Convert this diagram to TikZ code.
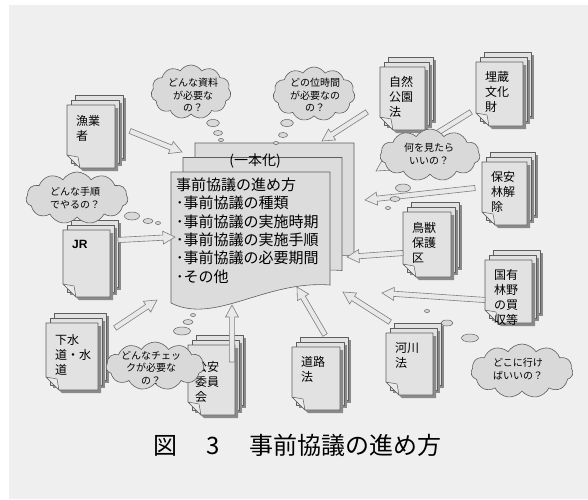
\documentclass[tikz,border=0pt]{standalone}
\usepackage{fontspec}
\setmainfont{Noto Sans CJK JP}
\newfontfamily\jrfont{Liberation Sans}
\usetikzlibrary{shapes.symbols,shapes.geometric,calc}
\definecolor{bgc}{HTML}{EFEFEF}
\definecolor{pagec}{HTML}{E2E2E2}
\definecolor{edgec}{HTML}{5E5E5E}
\definecolor{shadc}{HTML}{8A8A8A}
\definecolor{cloudc}{HTML}{D9D9D9}
\definecolor{arrowc}{HTML}{E9E9E9}
\definecolor{mainc}{HTML}{DCDCDC}
\tikzset{
  pagebox/.style={fill=pagec, draw=edgec, line width=0.6pt, line join=round},
  shadowbox/.style={fill=shadc},
  flapbox/.style={fill=pagec!70!white, draw=edgec, line width=0.5pt, line join=round},
  doctext/.style={font=\fontsize{12}{15}\selectfont, align=left, inner sep=0pt, anchor=north west},
  mainpage/.style={fill=mainc, draw=edgec, line width=0.6pt},
  maintext/.style={font=\fontsize{15}{18.4}\selectfont, align=left, inner sep=0pt, anchor=north west},
  cloudbox/.style={cloud, cloud puffs=11, cloud puff arc=115, fill=cloudc, draw=edgec, line width=0.6pt, inner sep=0pt},
  cloudtext/.style={font=\fontsize{10}{12.8}\selectfont, align=center, inner sep=0pt},
  bubble/.style={ellipse, fill=cloudc, draw=edgec, line width=0.5pt, inner sep=0pt},
  fatarrow/.style={fill=arrowc, draw=edgec!80, line width=0.6pt, line join=miter},
}
% name, x, y, w, h, text, text top offset, text left offset
\newcommand{\docstack}[8]{%
\begin{scope}[shift={(#2,#3)}]
  \foreach \k in {2,1}{
    \fill[shadowbox] ({4*\k+3},{-5*\k+3}) rectangle ++(#4,#5);
    \draw[pagebox] ({4*\k},{-5*\k}) rectangle ++(#4,#5);
  }
  \fill[shadowbox] (3,3) -- ++(#4,0) -- ++(0,#5) -- (16,{#5+3}) -- (3,{#5-10}) -- cycle;
  \draw[pagebox] (0,0) -- (#4,0) -- (#4,#5) -- (13,#5) -- (0,{#5-13}) -- cycle;
  \draw[flapbox] (0,{#5-13}) -- (11,{#5-11}) -- (13,#5) -- cycle;
  \coordinate (#1) at ({#4/2},{#5/2});
  \node[doctext] (#1-t) at (#8,#7) {#6};
\end{scope}}
\newcommand{\fatarrow}[2]{%
  \path ($(#2)!12pt!(#1)$) coordinate (fah);
  \draw[fatarrow] ($(#1)!2.6pt!90:(#2)$) -- ($(fah)!2.6pt!90:(#2)$) -- ($(fah)!6.5pt!90:(#2)$) -- (#2) -- ($(fah)!6.5pt!-90:(#2)$) -- ($(fah)!2.6pt!-90:(#2)$) -- ($(#1)!2.6pt!-90:(#2)$) -- cycle;}
\begin{document}
\begin{tikzpicture}[x=1pt,y=-1pt]
\useasboundingbox (0,0) rectangle (588,499);
\fill[white] (0,0) rectangle (588,499);
\fill[bgc] (9,5) rectangle (588,499);

% documents
\docstack{gyo}{67}{105}{48}{63}{漁業\\者}{10}{9}
\docstack{shizen}{380}{67}{45}{63}{自然\\公園\\法}{9.5}{9}
\docstack{maizo}{476}{62}{47}{64}{埋蔵\\文化\\財}{9.5}{9}
\docstack{hoan}{482}{162}{45}{63}{保安\\林解\\除}{9.5}{9}
\docstack{jr}{63}{230}{47}{67}{{\jrfont\bfseries JR}}{10}{9}
\docstack{chouju}{403}{212}{48}{65}{鳥獣\\保護\\区}{10}{9}
\docstack{kokuyu}{485}{260}{47}{63}{国有\\林野\\の買\\収等}{9}{9}
\docstack{gesui}{46}{323}{52}{67}{下水\\道・水\\道}{11}{9}
\docstack{koan}{188}{345}{47}{70}{公安\\委員\\会}{16}{7}
\docstack{douro}{292}{347}{48}{63}{道路\\法}{9}{9}
\docstack{kasen}{386}{333}{47}{62}{河川\\法}{9.5}{9}

% main document
\begin{scope}[shift={(171,172)}]
  \foreach \k in {2,1,0}{
    \draw[mainpage] ({12*\k},{-14.5*\k}) -- ++(159,0) -- ++(0,113) .. controls ++(-65,-5) and ++(44,22) .. ++(-159,18) -- cycle;
  }
\end{scope}
\node[font=\fontsize{14}{14}\selectfont, inner sep=0pt] (ippon) at (255,161) {(一本化)};
\node[maintext] (mtext) at (176,177.5) {事前協議の進め方\\･事前協議の種類\\･事前協議の実施時期\\･事前協議の実施手順\\･事前協議の必要期間\\･その他};

% arrow end points
\coordinate (a1s) at (130,131); \coordinate (a1e) at (182,152);
\coordinate (a2s) at (367,112); \coordinate (a2e) at (322,141);
\coordinate (a3s) at (471,112); \coordinate (a3e) at (376,171);
\coordinate (a4s) at (475,188); \coordinate (a4e) at (365,200);
\coordinate (a5s) at (118,240); \coordinate (a5e) at (175,237);
\coordinate (a6s) at (403,253); \coordinate (a6e) at (347,257);
\coordinate (a7s) at (485,300); \coordinate (a7e) at (382,293);
\coordinate (a8s) at (390,322); \coordinate (a8e) at (343,292);
\coordinate (a9s) at (325,335); \coordinate (a9e) at (297,287);
\coordinate (a10s) at (232,362); \coordinate (a10e) at (232,305);
\coordinate (a11s) at (115,328); \coordinate (a11e) at (157,300);
\fatarrow{a1s}{a1e}
\fatarrow{a2s}{a2e}
\fatarrow{a3s}{a3e}
\fatarrow{a4s}{a4e}
\fatarrow{a5s}{a5e}
\fatarrow{a6s}{a6e}
\fatarrow{a7s}{a7e}
\fatarrow{a8s}{a8e}
\fatarrow{a9s}{a9e}
\fatarrow{a10s}{a10e}
\fatarrow{a11s}{a11e}

% clouds
\node[cloudbox, minimum width=80pt, minimum height=54pt] (c1) at (191,92) {};
\node[cloudtext] (c1t) at (193,95) {どんな資料\\が必要な\\の？};
\node[bubble, minimum width=13pt, minimum height=7pt] (b11) at (213,123) {};
\node[bubble, minimum width=9pt, minimum height=5pt] (b12) at (218,133) {};
\node[bubble, minimum width=5pt, minimum height=3pt] (b13) at (221,140) {};

\node[cloudbox, minimum width=82pt, minimum height=54pt] (c2) at (314,94) {};
\node[cloudtext] (c2t) at (315,95) {どの位時間\\が必要なの\\の？};
\node[bubble, minimum width=13pt, minimum height=7pt] (b21) at (287,123) {};
\node[bubble, minimum width=9pt, minimum height=5pt] (b22) at (283,135) {};
\node[bubble, minimum width=5pt, minimum height=3pt] (b23) at (276,143) {};

\node[cloudbox, minimum width=100pt, minimum height=52pt] (c3) at (430,155) {};
\node[cloudtext] (c3t) at (429,154) {何を見たら\\いいの？};
\node[bubble, minimum width=15pt, minimum height=8pt] (b31) at (403,188) {};
\node[bubble, minimum width=10pt, minimum height=5pt] (b32) at (395,199) {};
\node[bubble, minimum width=5pt, minimum height=3pt] (b33) at (388,208) {};

\node[cloudbox, minimum width=102pt, minimum height=52pt] (c4) at (77,198) {};
\node[cloudtext] (c4t) at (75,198) {どんな手順\\でやるの？};
\node[bubble, minimum width=15pt, minimum height=8pt] (b41) at (132,216) {};
\node[bubble, minimum width=10pt, minimum height=5pt] (b42) at (148,221) {};
\node[bubble, minimum width=5pt, minimum height=3pt] (b43) at (158,223) {};

\node[cloudbox, minimum width=98pt, minimum height=48pt] (c5) at (155,366) {};
\node[cloudtext] (c5t) at (151,368) {どんなチェッ\\クが必要な\\の？};
\node[bubble, minimum width=17pt, minimum height=8pt] (b51) at (182,331) {};
\node[bubble, minimum width=10pt, minimum height=5pt] (b52) at (188,322) {};
\node[bubble, minimum width=5pt, minimum height=3pt] (b53) at (193,315) {};

\node[cloudbox, minimum width=102pt, minimum height=54pt] (c6) at (522,371) {};
\node[cloudtext] (c6t) at (518,369) {どこに行け\\ばいいの？};
\node[bubble, minimum width=17pt, minimum height=8pt] (b61) at (470,338) {};
\node[bubble, minimum width=12pt, minimum height=6pt] (b62) at (447,323) {};
\node[bubble, minimum width=5pt, minimum height=3pt] (b63) at (427,311) {};

% caption
\node[font=\fontsize{24}{24}\selectfont, inner sep=0pt, anchor=west] (cap) at (153,445) {図\hspace{1em}\makebox[1em]{3}\hspace{1em}事前協議の進め方};
\end{tikzpicture}
\end{document}
